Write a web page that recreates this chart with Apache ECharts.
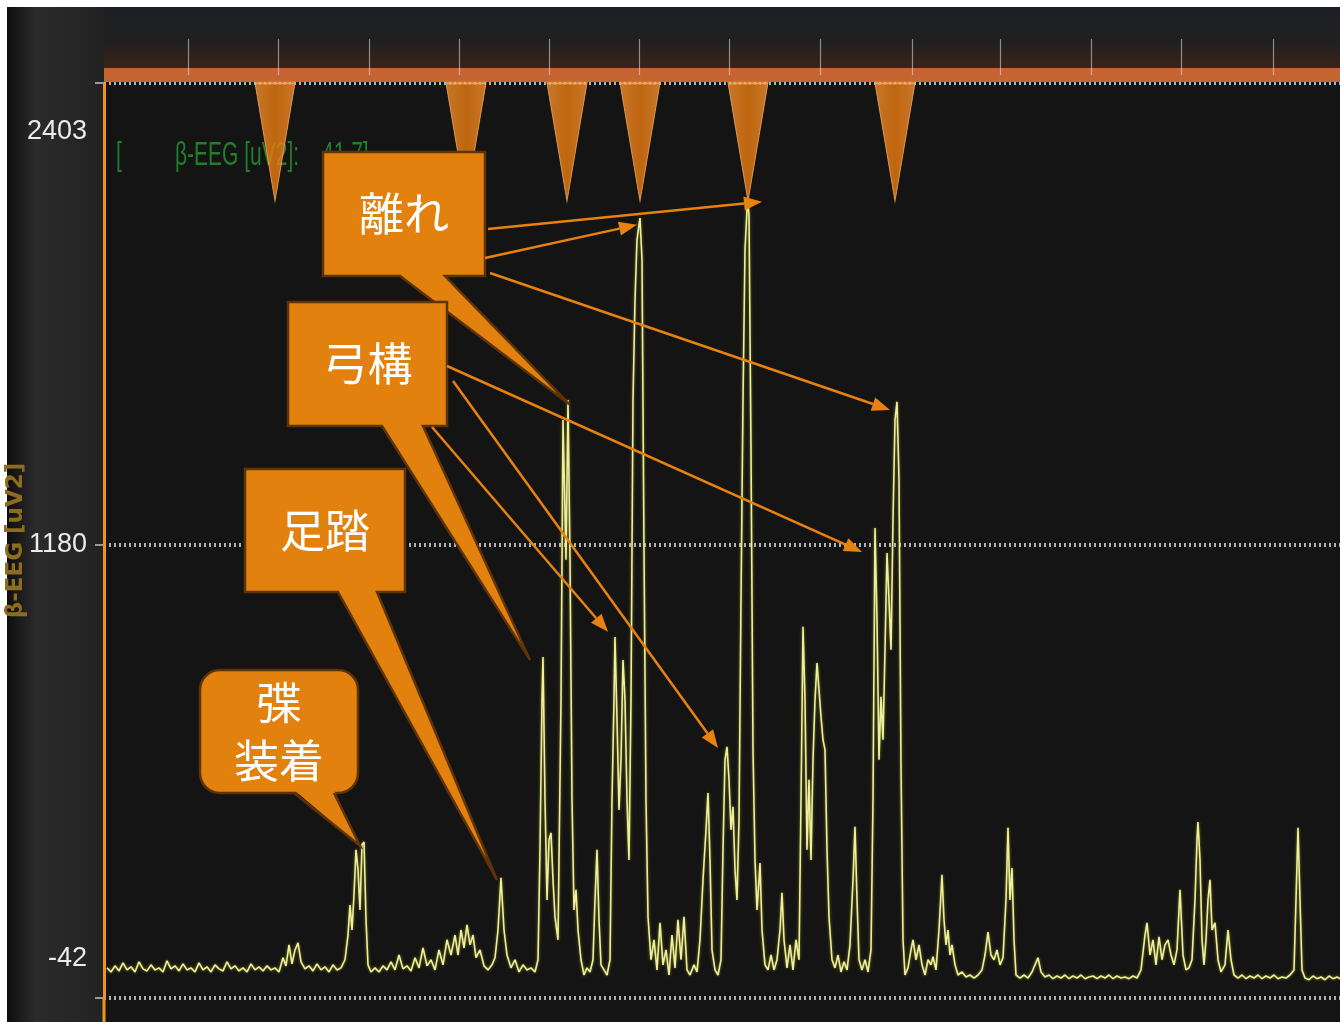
<!DOCTYPE html>
<html>
<head>
<meta charset="utf-8">
<title>β-EEG</title>
<script src="https://cdn.jsdelivr.net/npm/echarts@6/dist/echarts.min.js"></script>
<style>
  html, body { margin: 0; padding: 0; background: #fff; }
  #chart { width: 1340px; height: 1022px; }
</style>
</head>
<body>
<div id="chart"></div>
<script>
// β-EEG パワー [uV2] の波形（x = サンプル位置）
// 弽装着・足踏まで
const tracePrep = [
  [9,-70],[13,-82],[17,-64],[21,-79],[25,-55],[29,-76],[33,-67],[37,-82],[41,-52],[45,-73],[49,-79],[53,-61],
  [57,-76],[61,-70],[65,-82],[69,-49],[73,-73],[77,-64],[81,-79],[85,-58],[89,-76],[93,-70],[97,-82],[101,-55],
  [105,-76],[109,-67],[113,-82],[117,-61],[121,-73],[125,-79],[129,-52],[133,-73],[137,-64],[141,-79],[145,-70],
  [149,-82],[153,-58],[157,-76],[161,-67],[165,-79],[169,-64],[173,-76],[177,-70],[181,-82],[185,-40],[188,-64],
  [191,-2],[194,-58],[197,-17],[200,4],[203,-52],[207,-73],[211,-64],[215,-79],[219,-58],[223,-76],[227,-67],
  [231,-82],[235,-61],[239,-76],[243,-70],[247,-46],[250,27],[252,116],[254,42],[256,146],[258,279],[260,220],
  [262,101],[264,294],[266,302],[268,72],[270,-61],[273,-82],[277,-70],[281,-82],[285,-64],[289,-76],[293,-52],
  [297,-76],[301,-32],[305,-73],[309,-64],[313,-79],[317,-40],[321,-70],[325,-11],[329,-64],[333,-46],[337,-76],
  [341,-17],[345,-61],[349,13],[353,-32],[357,27],[360,-32],[363,42],[366,-11],[369,57],[372,-2],[375,27],
  [378,-40],[382,-17],[386,-64],[390,-76],[394,-61],[397,-40],[400,42],[403,196],[406,42],[409,-32],[413,-70],
  [417,-46],[421,-82],[425,-61],[429,-76],[433,-70],[437,-82],[440,-46]
];
// 弓構〜離れ
const traceShot = [
  [442,279],[444,722],[445,849],[447,426],[449,131],[451,308],[453,329],[455,190],[457,81],[460,13],[463,722],
  [465,1549],[468,1136],[470,1608],[472,1136],[474,426],[476,101],[478,161],[480,42],[483,-46],[486,-91],
  [489,-70],[492,-82],[495,-46],[497,131],[499,279],[501,72],[503,-61],[506,-76],[509,-91],[512,-46],[514,426],
  [516,722],[517,908],[519,663],[521,397],[523,545],[525,840],[527,722],[529,426],[531,249],[533,722],[535,1608],
  [537,1904],[539,2081],[541,2126],[542,2146],[544,2022],[546,1165],[548,426],[550,81],[553,-46],[556,13],
  [559,-76],[562,63],[565,-61],[568,-17],[571,-91],[574,27],[577,-70],[580,72],[583,-46],[586,81],[589,-76],
  [592,-91],[596,-61],[599,-82],[602,13],[605,190],[608,338],[610,447],[612,249],[614,-17],[617,-76],[620,-91],
  [623,-46],[625,279],[627,545],[629,583],[631,486],[633,338],[635,406],[637,220],[639,131],[641,367],[643,1017],
  [645,1608],[647,2052],[649,2170],[650,2185],[651,2155],[653,1461],[655,574],[657,249],[659,101],[661,190],
  [662,240],[664,42],[667,-61],[670,-76],[673,-32],[676,-76],[679,-46],[682,42],[684,152],[686,13],[689,-70],
  [692,-2],[695,-76],[698,13],[701,-46],[703,426],[705,938],[707,722],[709,279],[711,486],[713,249],[715,545],
  [717,722],[719,831],[721,752],[723,672],[725,604],[727,574],[729,279],[731,81],[734,-46],[737,-70],[740,-32],
  [743,-82],[746,-52],[749,-76],[752,-2],[755,190],[757,347],[759,131],[761,-46],[764,-76],[767,-46],[770,-82],
  [773,-17],[775,426],[777,1230],[779,958],[781,545],[783,731],[785,604],[787,870],[789,1156],[791,1017],
  [793,870],[795,1254],[797,1549],[799,1603],[801,1372],[803,524],[805,13]
];
// 離れ以降
const traceAfter = [
  [807,-91],[810,-70],[813,-17],[815,13],[818,-46],[821,-2],[824,-61],[827,-91],[830,-46],[833,-61],[835,-37],
  [838,-76],[841,42],[844,205],[846,72],[848,-2],[850,42],[852,-32],[854,-2],[857,-61],[860,-91],[864,-82],
  [868,-97],[872,-91],[876,-100],[880,-91],[884,-76],[887,-32],[890,36],[893,-32],[896,-46],[899,-17],[902,-61],
  [905,-40],[908,131],[910,344],[912,131],[914,225],[916,13],[918,-91],[922,-100],[926,-91],[930,-100],[934,-82],
  [937,-61],[940,-40],[943,-82],[947,-97],[951,-91],[955,-102],[959,-94],[963,-100],[967,-91],[971,-102],
  [975,-94],[979,-100],[983,-91],[987,-102],[991,-97],[995,-94],[999,-102],[1003,-94],[1007,-100],[1011,-91],
  [1015,-102],[1019,-94],[1023,-100],[1027,-97],[1031,-102],[1035,-94],[1039,-100],[1043,-76],[1047,27],
  [1049,63],[1052,-32],[1055,13],[1058,-61],[1061,22],[1064,-46],[1067,-2],[1070,13],[1073,-32],[1076,-61],
  [1079,-17],[1082,161],[1085,-32],[1088,-76],[1091,-70],[1094,-46],[1097,131],[1099,308],[1100,361],[1102,249],
  [1104,13],[1106,-61],[1108,13],[1110,131],[1112,190],[1114,42],[1117,63],[1120,-46],[1123,-82],[1127,-61],
  [1130,42],[1133,-46],[1136,-91],[1140,-100],[1144,-91],[1148,-102],[1152,-94],[1156,-100],[1160,-91],
  [1164,-102],[1168,-94],[1172,-100],[1176,-91],[1180,-102],[1184,-97],[1188,-100],[1192,-91],[1196,-76],
  [1198,131],[1200,344],[1202,131],[1204,-76],[1207,-100],[1211,-105],[1215,-94],[1219,-102],[1223,-97],
  [1227,-105],[1231,-94],[1235,-102],[1239,-97],[1242,-102]
];

// イベントマーカー（上部の三角）
const eventX = [177, 368, 469, 542, 650, 797];
// 上部の時間目盛
const topTicks = [90, 180, 271, 361, 451, 541, 631, 722, 814, 902, 993, 1083, 1175];
// 縦軸
const yLabels = [-42, 1180, 2403];
const yTicks = [-159, 1180, 2545];
const Y_MIN = -159, Y_MAX = 2545;
const X_MIN = 6, X_MAX = 1242;

// 吹き出し（tip はデータ座標）
const callouts = [
  { text: '離れ', box: [323, 152, 162, 124], tail: [400, 445], tip: [472, 1594] },
  { text: '弓構', box: [288, 302, 159, 124], tail: [382, 423], tip: [432, 840] },
  { text: '足踏', box: [245, 469, 160, 123], tail: [338, 377], tip: [399, 190] },
  { text: '弽\n装着', box: [200, 670, 158, 123], tail: [294, 334], tip: [262, 291], round: 20 }
];
// 矢印（from は画面座標、to はデータ座標）
const arrows = [
  { from: [488, 229], to: [664, 2194] },
  { from: [485, 258], to: [539, 2126] },
  { from: [490, 273], to: [792, 1579] },
  { from: [447, 366], to: [764, 1159] },
  { from: [453, 381], to: [620, 580] },
  { from: [432, 427], to: [510, 923] }
];

const ORANGE = '#e3810f';
const EDGE = '#5e3308';
const ARROW = '#e8820f';

const chart = echarts.init(document.getElementById('chart'));

const option = {
  backgroundColor: '#ffffff',
  animation: false,
  grid: { left: 104, right: 0, top: 83, bottom: 24, outerBoundsMode: 'none' },
  xAxis: [
    {
      type: 'value', min: X_MIN, max: X_MAX, position: 'bottom',
      axisLine: { show: false }, axisTick: { show: false }, axisLabel: { show: false }, splitLine: { show: false }
    },
    {
      type: 'value', min: X_MIN, max: X_MAX, position: 'top', offset: 8,
      axisLine: { show: true, lineStyle: { color: '#c4652f', width: 14, cap: 'butt' } },
      axisTick: { show: true, customValues: topTicks, inside: false, length: 36,
        lineStyle: { color: 'rgba(230,230,230,0.55)', width: 1.2 } },
      axisLabel: { show: false },
      splitLine: { show: false }
    }
  ],
  yAxis: {
    type: 'value', min: Y_MIN, max: Y_MAX,
    name: 'β-EEG [uV2]', nameLocation: 'middle', nameRotate: 90, nameGap: 76, nameMoveOverlap: false,
    nameTextStyle: { color: '#8d6c1f', fontSize: 23, fontWeight: 'bold', fontFamily: 'DejaVu Sans' },
    axisLine: { show: true, lineStyle: { color: '#f39418', width: 3, cap: 'butt' } },
    axisTick: { show: true, customValues: yTicks, length: 9, lineStyle: { color: '#9a9a9a', width: 2 } },
    axisLabel: { customValues: yLabels, color: '#ececec', fontSize: 27,
      fontFamily: '"Liberation Sans Narrow", "Liberation Sans", sans-serif', margin: 17,
      formatter: v => String(v) },
    splitLine: { show: true, lineStyle: { color: 'rgba(215,215,225,0.8)', width: 4, type: [2, 3] } }
  },
  series: [
    {
      type: 'line', name: 'β-EEG',
      data: tracePrep.concat(traceShot, traceAfter),
      symbol: 'none', z: 3,
      lineStyle: { color: '#eeeea0', width: 1.6, shadowColor: 'rgba(210,210,40,0.6)', shadowBlur: 3 }
    },
    {
      type: 'scatter', name: 'event',
      data: eventX.map(x => [x, Y_MAX]),
      symbol: 'path://M0 0L20 0L10 60Z', symbolSize: [40, 118], symbolOffset: [0, '50%'],
      clip: false, z: 4,
      itemStyle: {
        color: new echarts.graphic.LinearGradient(0, 0, 1, 0, [
          { offset: 0, color: '#f39030' }, { offset: 0.5, color: '#ea7a0e' }, { offset: 1, color: '#f39030' }
        ]),
        borderColor: '#f6ab62', borderWidth: 1.5
      }
    }
  ]
};

chart.setOption(option);

const toPx = p => chart.convertToPixel({ xAxisIndex: 0, yAxisIndex: 0 }, p);

function calloutShapes(c) {
  const [x, y, w, h] = c.box;
  const b = y + h;
  const tip = toPx(c.tip);
  const out = [];
  if (c.round) {
    out.push({ type: 'rect', z: 100, shape: { x, y, width: w, height: h, r: c.round },
      style: { fill: ORANGE, stroke: EDGE, lineWidth: 2.5 } });
    out.push({ type: 'polygon', z: 101, shape: { points: [[c.tail[0], b - 3], [c.tail[1], b - 3], tip] },
      style: { fill: ORANGE } });
    out.push({ type: 'polyline', z: 101, shape: { points: [[c.tail[0], b], tip, [c.tail[1], b]] },
      style: { stroke: EDGE, lineWidth: 2.5, fill: null } });
  } else {
    out.push({ type: 'polygon', z: 100,
      shape: { points: [[x, y], [x + w, y], [x + w, b], [c.tail[1], b], tip, [c.tail[0], b], [x, b]] },
      style: { fill: ORANGE, stroke: EDGE, lineWidth: 2.5 } });
  }
  out.push({ type: 'text', z: 102, x: x + w / 2, y: y + h / 2,
    style: { text: c.text, fill: '#ffffff', font: '45px "Noto Sans CJK JP"',
      textAlign: 'center', textVerticalAlign: 'middle', align: 'center', verticalAlign: 'middle', lineHeight: 58 } });
  return out;
}

function arrowShapes(a) {
  const p0 = a.from;
  const p1 = toPx(a.to);
  const dx = p1[0] - p0[0], dy = p1[1] - p0[1];
  const len = Math.hypot(dx, dy);
  const ux = dx / len, uy = dy / len;
  const hl = 18, hw = 7;
  const bx = p1[0] - ux * hl, by = p1[1] - uy * hl;
  return [
    { type: 'line', z: 103, shape: { x1: p0[0], y1: p0[1], x2: bx, y2: by }, style: { stroke: ARROW, lineWidth: 2.5 } },
    { type: 'polygon', z: 103, shape: { points: [p1, [bx - uy * hw, by + ux * hw], [bx + uy * hw, by - ux * hw]] },
      style: { fill: ARROW } }
  ];
}

// 画面上部の緑のチャンネル表示（縦長のフォントを scaleY で再現）
const headerText = (x, t) => ({
  type: 'text', z: 1, x, y: 156, scaleY: 1.6, originX: 0, originY: 0,
  style: { text: t, fill: '#1f7f2a', font: '21px "Liberation Sans Narrow", "Liberation Sans", sans-serif',
    verticalAlign: 'middle', textVerticalAlign: 'middle' }
});
const background = [
  { type: 'rect', z: -10, shape: { x: 7, y: 7, width: 1333, height: 1015 }, style: { fill: '#141414' } },
  { type: 'rect', z: -9, shape: { x: 7, y: 7, width: 97, height: 1015 },
    style: { fill: new echarts.graphic.LinearGradient(0, 0, 1, 0, [
      { offset: 0, color: '#0e0e0e' }, { offset: 0.3, color: '#2b2b2b' }, { offset: 1, color: '#222222' }
    ]) } },
  { type: 'rect', z: -9, shape: { x: 104, y: 7, width: 1236, height: 61 },
    style: { fill: new echarts.graphic.LinearGradient(0, 0, 0, 1, [
      { offset: 0, color: '#1b1f25' }, { offset: 0.6, color: '#22201f' }, { offset: 1, color: '#3a2416' }
    ]) } },
  { type: 'line', z: 1, shape: { x1: 104, y1: 998, x2: 104, y2: 1022 }, style: { stroke: '#f39418', lineWidth: 3 } },
  headerText(116, '['),
  headerText(175, 'β-EEG [uV2]:'),
  headerText(322, '41.7]')
];

let overlay = [];
callouts.forEach(c => { overlay = overlay.concat(calloutShapes(c)); });
arrows.forEach(a => { overlay = overlay.concat(arrowShapes(a)); });

chart.setOption({ graphic: { elements: background.concat(overlay) } });
</script>
</body>
</html>
